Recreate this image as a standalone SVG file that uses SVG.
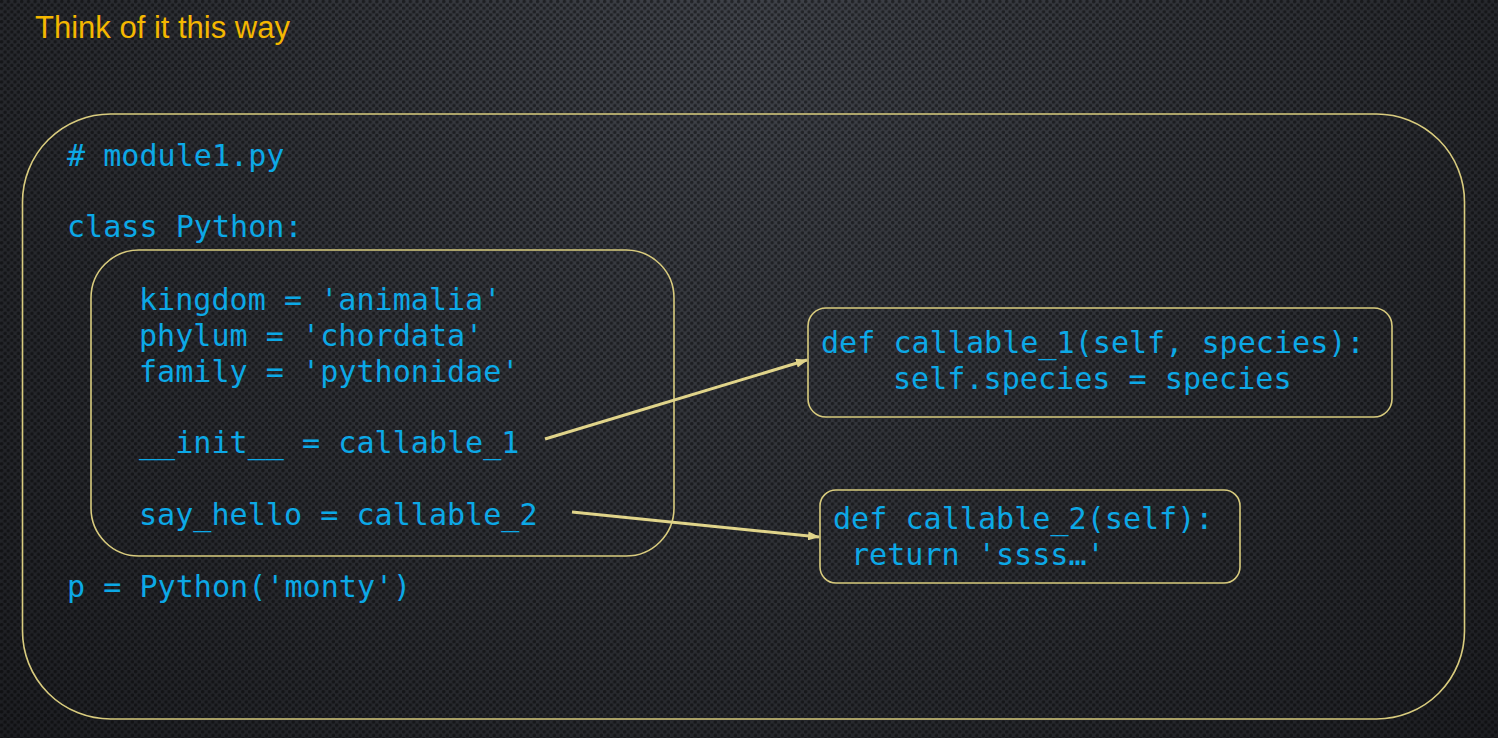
<svg xmlns="http://www.w3.org/2000/svg" width="1498" height="738" viewBox="0 0 1498 738">
  <defs>
    <radialGradient id="bg" cx="750" cy="40" r="1050" gradientUnits="userSpaceOnUse">
      <stop offset="0" stop-color="#40434a"/>
      <stop offset="0.55" stop-color="#2c2e33"/>
      <stop offset="1" stop-color="#1c1d21"/>
    </radialGradient>
    <pattern id="dots" width="6.7" height="6.7" patternUnits="userSpaceOnUse">
      <circle cx="1.67" cy="1.67" r="1.75" fill="#000" fill-opacity="0.45"/>
      <circle cx="5.02" cy="5.02" r="1.75" fill="#000" fill-opacity="0.45"/>
    </pattern>
    <marker id="arrow" markerWidth="12" markerHeight="9" refX="11" refY="4.5" orient="auto" markerUnits="userSpaceOnUse" viewBox="0 0 12 9">
      <path d="M0,0 L12,4.5 L0,9 Z" fill="#e0d48a"/>
    </marker>
    <style>
      .code { font-family: "DejaVu Sans Mono", "Liberation Mono", monospace; font-size: 30.1px; fill: #0ca8e6; white-space: pre; }
      .box { fill: none; stroke: #d8cb7e; stroke-width: 1.6; }
      .conn { fill: none; stroke: #e0d48a; stroke-width: 3; }
      .title { font-family: "Liberation Sans", Arial, sans-serif; font-size: 31px; fill: #f4b700; }
    </style>
  </defs>
  <rect width="1498" height="738" fill="url(#bg)"/>
  <rect width="1498" height="738" fill="url(#dots)"/>

  <text class="title" x="35" y="38" textLength="255" lengthAdjust="spacingAndGlyphs">Think of it this way</text>

  <g id="module">
    <rect class="box" x="22.5" y="114" width="1442" height="605" rx="88" ry="88"/>
    <text class="code" x="67" y="166"># module1.py</text>
    <text class="code" x="67" y="237">class Python:</text>
    <text class="code" x="67" y="597">p = Python('monty')</text>
  </g>

  <g id="class-body">
    <rect class="box" x="91" y="250" width="583" height="306" rx="48" ry="48"/>
    <text class="code" x="139" y="310">kingdom = 'animalia'</text>
    <text class="code" x="139" y="346">phylum = 'chordata'</text>
    <text class="code" x="139" y="382">family = 'pythonidae'</text>
    <text class="code" x="139" y="453">__init__ = callable_1</text>
    <text class="code" x="139" y="525">say_hello = callable_2</text>
  </g>

  <g id="callable1">
    <rect class="box" x="808" y="308" width="584" height="109" rx="18" ry="18"/>
    <text class="code" x="821" y="353">def callable_1(self, species):</text>
    <text class="code" x="893" y="389">self.species = species</text>
  </g>

  <g id="callable2">
    <rect class="box" x="820" y="490" width="420" height="93" rx="16" ry="16"/>
    <text class="code" x="833" y="529">def callable_2(self):</text>
    <text class="code" x="851" y="565">return 'ssss…'</text>
  </g>

  <g id="connectors">
    <line class="conn" x1="545" y1="439" x2="807" y2="360" marker-end="url(#arrow)"/>
    <line class="conn" x1="572" y1="512" x2="819" y2="537" marker-end="url(#arrow)"/>
  </g>
</svg>
